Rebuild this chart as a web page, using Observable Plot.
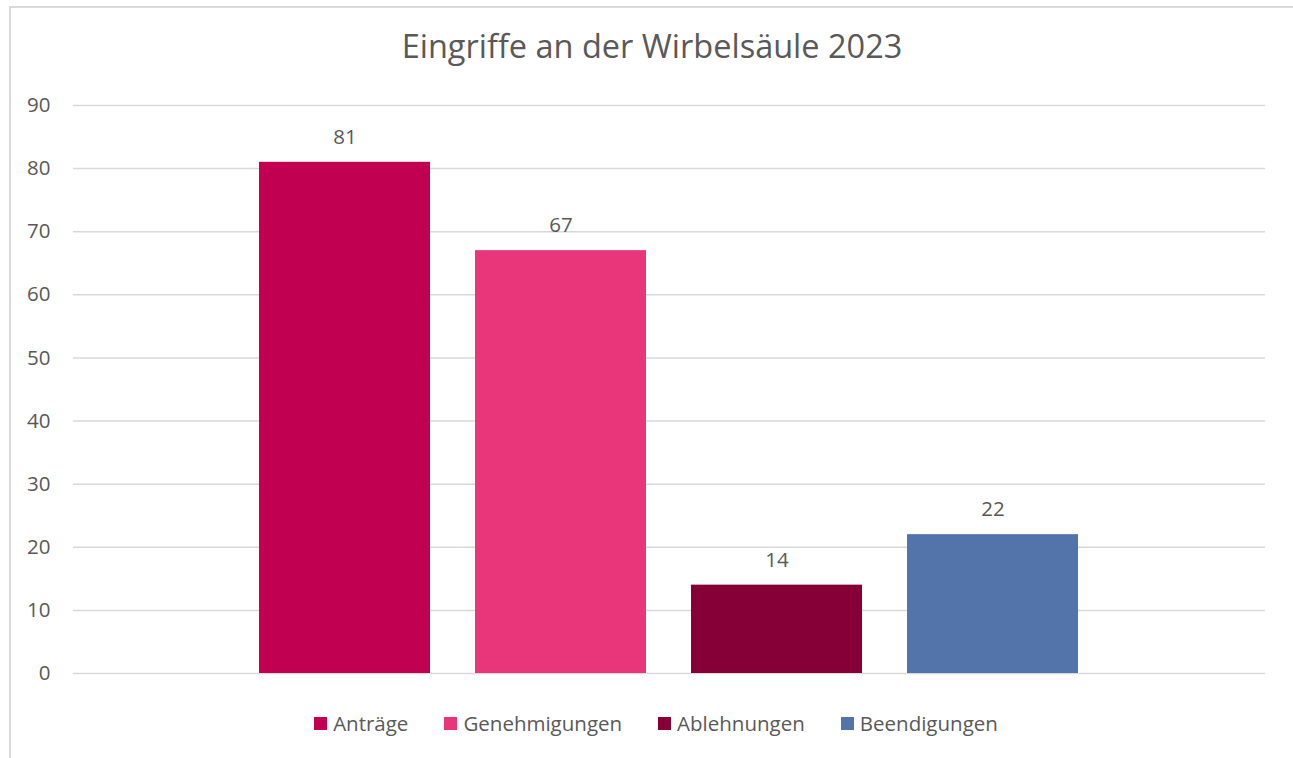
<!DOCTYPE html>
<html>
<head>
<meta charset="utf-8">
<script src="https://cdn.jsdelivr.net/npm/d3@7"></script>
<script src="https://cdn.jsdelivr.net/npm/@observablehq/plot@0.6"></script>
<style>
  html, body { margin: 0; padding: 0; background: #fff; overflow: hidden; }
  body { width: 1293px; height: 758px; position: relative; font-family: "Open Sans", sans-serif; }
  #frame { position: absolute; left: 9px; top: 6px; width: 1300px; height: 760px; border-left: 2px solid #d9d9d9; border-top: 2px solid #d9d9d9; box-sizing: border-box; }
  #title { position: absolute; left: 9px; width: 1286px; top: 30px; text-align: center; font-size: 32.5px; line-height: 1; color: #595959; white-space: nowrap; }
  #chart { position: absolute; left: 0; top: 0; }
  #legend { position: absolute; left: 9px; width: 1294px; top: 711px; display: flex; justify-content: center; gap: 36px; font-size: 20.5px; line-height: 24px; color: #595959; }
  .item { display: flex; align-items: center; gap: 6px; }
  .sw { width: 13px; height: 13px; display: inline-block; }
</style>
</head>
<body>
<div id="frame"></div>
<div id="chart"></div>
<div id="title"></div>
<div id="legend"></div>
<script>
const titleText = "Eingriffe an der Wirbelsäule 2023";
const categories = ["Anträge", "Genehmigungen", "Ablehnungen", "Beendigungen"];
const values = [81, 67, 14, 22];
const colors = ["#C20052", "#E9357A", "#860037", "#5373AB"];
const yTicks = [0, 10, 20, 30, 40, 50, 60, 70, 80, 90];

const data = categories.map((c, i) => ({category: c, value: values[i]}));

document.getElementById("title").textContent = titleText;

const plot = Plot.plot({
  width: 1293,
  height: 700,
  marginLeft: 73,
  marginRight: 28,
  marginTop: 105,
  marginBottom: 27,
  style: {fontFamily: "Open Sans, sans-serif", fontSize: "20.5px", color: "#595959", background: "transparent"},
  x: {domain: categories, paddingInner: 0.208, paddingOuter: 0.857, axis: null},
  y: {domain: [0, 90]},
  color: {domain: categories, range: colors},
  marks: [
    Plot.gridY(yTicks, {stroke: "#d9d9d9", strokeOpacity: 1, strokeWidth: 1.5}),
    Plot.axisY(yTicks, {tickSize: 0, tickPadding: 23, fill: "#595959", fontSize: 20.5, label: null}),
    Plot.barY(data, {x: "category", y: "value", fill: "category"}),
    Plot.text(data, {x: "category", y: "value", text: d => String(d.value), dy: -25, fill: "#595959", fontSize: 20.5})
  ]
});
document.getElementById("chart").appendChild(plot);

const legend = document.getElementById("legend");
categories.forEach((c, i) => {
  const it = document.createElement("div");
  it.className = "item";
  const sw = document.createElement("span");
  sw.className = "sw";
  sw.style.background = colors[i];
  const t = document.createElement("span");
  t.textContent = c;
  it.appendChild(sw);
  it.appendChild(t);
  legend.appendChild(it);
});
</script>
</body>
</html>
